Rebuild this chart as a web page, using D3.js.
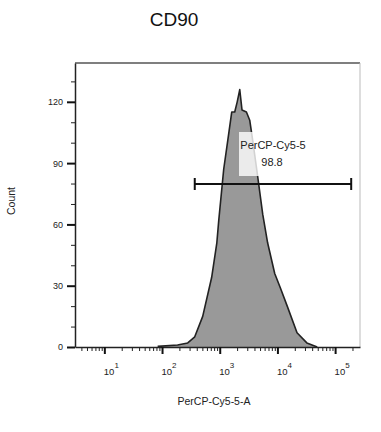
<!DOCTYPE html>
<html>
<head>
<meta charset="utf-8">
<script src="https://cdn.jsdelivr.net/npm/d3@7"></script>
<style>
  body { margin: 0; background: #fff; }
  svg { display: block; font-family: 'Liberation Sans', Arial, sans-serif; }
</style>
</head>
<body>
<div id="chart-container"></div>
<script>
// histogram: channel value (PerCP-Cy5-5-A) and count
const binValues = [84, 186, 279, 369, 507, 724, 891, 962, 1172, 1377, 1614, 1820, 2010, 2223, 2434, 2901, 3311, 3733, 4375, 5559, 6761, 8974, 11220, 14791, 21878, 32359, 48978]
const counts = [0.3, 1, 2, 5, 15, 34, 51, 62, 87, 101, 115, 115, 120, 126, 116, 115, 111, 101, 87, 65, 51, 36, 29, 20, 7, 2, 0]

const yMajorTicks = [0, 30, 60, 90, 120]
const yMinorTicks = [10, 20, 40, 50, 70, 80, 100, 110, 130]
const xDecades = [10, 100, 1000, 10000, 100000]
const xDecadeExponents = ['1', '2', '3', '4', '5']

const gateRange = [369, 190000]
const gateName = 'PerCP-Cy5-5'
const gatePercent = '98.8'

const title = 'CD90'
const xLabel = 'PerCP-Cy5-5-A'
const yLabel = 'Count'

// layout
const width = 381
const height = 432
const plotLeft = 75
const plotRight = 360
const plotTop = 63
const plotBottom = 347
const textColor = '#222'

const svg = d3
  .select('#chart-container')
  .append('svg')
  .attr('width', width)
  .attr('height', height)
  .attr('viewBox', `0 0 ${width} ${height}`)

const x = d3.scaleLog().domain([3.1, 270000]).range([plotLeft, plotRight])
const y = d3.scaleLinear().domain([0, 139]).range([plotBottom, plotTop])

const data = binValues.map((v, i) => ({ v, c: counts[i] }))

// histogram
svg
  .append('path')
  .datum(data)
  .attr(
    'd',
    d3
      .area()
      .x(d => x(d.v))
      .y0(y(0))
      .y1(d => y(d.c)),
  )
  .attr('fill', '#999')
  .attr('stroke', 'none')

svg
  .append('path')
  .datum(data)
  .attr(
    'd',
    d3
      .line()
      .x(d => x(d.v))
      .y(d => y(d.c)),
  )
  .attr('fill', 'none')
  .attr('stroke', '#222')
  .attr('stroke-width', 1.6)
  .attr('stroke-linejoin', 'round')

// frame top / right
svg
  .append('line')
  .attr('x1', plotLeft)
  .attr('x2', plotRight)
  .attr('y1', plotTop)
  .attr('y2', plotTop)
  .attr('stroke', '#555')
  .attr('stroke-width', 1.5)

svg
  .append('line')
  .attr('x1', plotRight)
  .attr('x2', plotRight)
  .attr('y1', plotTop)
  .attr('y2', plotBottom)
  .attr('stroke', '#bbb')
  .attr('stroke-width', 1)

// x axis minor ticks
const xMinor = []
for (let e = 0; e <= 5; e++) {
  for (let m = 2; m <= 9; m++) {
    const v = m * Math.pow(10, e)
    if (v >= x.domain()[0] && v <= x.domain()[1]) xMinor.push(v)
  }
}

const xAxisMinor = svg
  .append('g')
  .attr('transform', `translate(0, ${plotBottom})`)
  .call(d3.axisBottom(x).tickValues(xMinor).tickSize(4).tickFormat(''))
xAxisMinor.select('.domain').remove()
xAxisMinor.selectAll('line').attr('stroke', '#222').attr('stroke-width', 1)

const xAxisMajor = svg
  .append('g')
  .attr('transform', `translate(0, ${plotBottom})`)
  .call(
    d3
      .axisBottom(x)
      .tickValues(xDecades)
      .tickSize(7)
      .tickSizeOuter(0)
      .tickFormat(''),
  )
xAxisMajor.select('.domain').attr('stroke', '#222').attr('stroke-width', 1.5)
xAxisMajor.selectAll('line').attr('stroke', '#111').attr('stroke-width', 2)

// x tick labels: 10 with superscript exponent
const xTickLabels = svg
  .append('g')
  .attr('font-size', 9.5)
  .selectAll('text')
  .data(xDecades)
  .join('text')
  .attr('x', d => x(d) + 7)
  .attr('y', 375)
  .attr('text-anchor', 'middle')
  .attr('fill', textColor)
xTickLabels.append('tspan').attr('fill', textColor).text('10')
xTickLabels
  .append('tspan')
  .attr('dy', -7)
  .attr('font-size', 8)
  .attr('fill', textColor)
  .text((d, i) => xDecadeExponents[i])

// y axis
const yAxisMinor = svg
  .append('g')
  .attr('transform', `translate(${plotLeft}, 0)`)
  .call(d3.axisLeft(y).tickValues(yMinorTicks).tickSize(4).tickFormat(''))
yAxisMinor.select('.domain').remove()
yAxisMinor.selectAll('line').attr('stroke', '#222').attr('stroke-width', 1)

const yAxisMajor = svg
  .append('g')
  .attr('transform', `translate(${plotLeft}, 0)`)
  .call(
    d3
      .axisLeft(y)
      .tickValues(yMajorTicks)
      .tickSize(8)
      .tickSizeOuter(0)
      .tickPadding(4),
  )
yAxisMajor.select('.domain').attr('stroke', '#222').attr('stroke-width', 1.5)
yAxisMajor.selectAll('line').attr('stroke', '#111').attr('stroke-width', 2)
yAxisMajor
  .selectAll('text')
  .attr('font-size', 9)
  .attr('font-family', "'Liberation Sans', Arial, sans-serif")
  .attr('fill', textColor)

// gate
const gateY = 184
const gate = svg.append('g').attr('stroke', '#111').attr('stroke-width', 2)
gate
  .append('line')
  .attr('x1', x(gateRange[0]))
  .attr('x2', x(gateRange[1]))
  .attr('y1', gateY)
  .attr('y2', gateY)
gate
  .selectAll('line.cap')
  .data(gateRange)
  .join('line')
  .attr('class', 'cap')
  .attr('x1', d => x(d))
  .attr('x2', d => x(d))
  .attr('y1', gateY - 6)
  .attr('y2', gateY + 6)

// gate label with its half-covering white box
svg
  .append('rect')
  .attr('x', 239)
  .attr('y', 132)
  .attr('width', 21)
  .attr('height', 44)
  .attr('fill', '#fff')
  .attr('opacity', 0.8)

svg
  .append('text')
  .attr('x', 273)
  .attr('y', 149)
  .attr('text-anchor', 'middle')
  .attr('font-size', 11)
  .attr('fill', textColor)
  .text(gateName)

svg
  .append('text')
  .attr('x', 272)
  .attr('y', 166)
  .attr('text-anchor', 'middle')
  .attr('font-size', 11)
  .attr('fill', textColor)
  .text(gatePercent)

// title and axis labels
svg
  .append('text')
  .attr('x', 174)
  .attr('y', 26)
  .attr('text-anchor', 'middle')
  .attr('font-size', 19)
  .attr('fill', '#111')
  .text(title)

svg
  .append('text')
  .attr('x', 214)
  .attr('y', 405)
  .attr('text-anchor', 'middle')
  .attr('font-size', 10.5)
  .attr('fill', textColor)
  .text(xLabel)

svg
  .append('text')
  .attr('transform', 'translate(15, 201) rotate(-90)')
  .attr('text-anchor', 'middle')
  .attr('font-size', 10.5)
  .attr('fill', textColor)
  .text(yLabel)
</script>
</body>
</html>
